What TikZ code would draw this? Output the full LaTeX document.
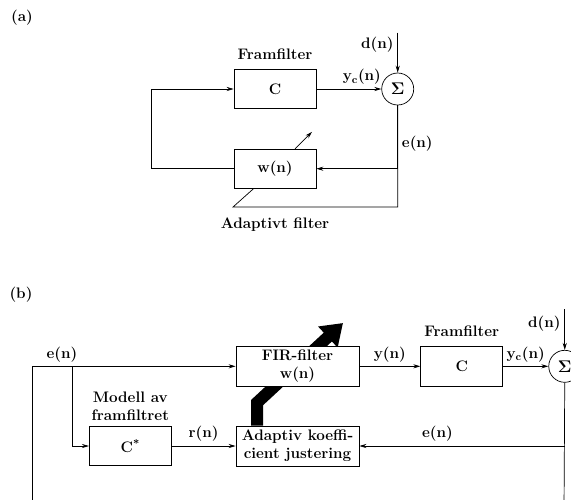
\documentclass[tikz,border=0pt]{standalone}
\usepackage{tikz}
\usetikzlibrary{arrows.meta,positioning,calc}

\begin{document}
\begin{tikzpicture}[
  every node/.style={font=\fontsize{13}{15.5}\selectfont\bfseries},
  blk/.style={rectangle, draw, minimum width=2.46cm, minimum height=1.17cm,
              align=center, fill=white, inner sep=1pt, line width=0.6pt},
  wblk/.style={blk, minimum width=3.69cm, minimum height=1.2cm},
  sumnode/.style={circle, draw, minimum size=0.96cm, inner sep=0pt, line width=0.6pt,
                  font=\Large},
  wire/.style={line width=0.6pt},
  arr/.style={-{Stealth[length=6pt,width=3.5pt]}, line width=0.6pt},
  bigarr/.style={-{Triangle[length=0.62cm,width=0.82cm]}, line width=0.36cm},
]
\useasboundingbox (0,0) rectangle (17.13,-14.97);

%% (a) adaptive filter
\node (tagA) at (0.66,-0.54) {(a)};
\node[blk] (Ca) at (8.25,-2.67) {C};
\node[above=0.15cm of Ca] (fa) {Framfilter};
\node[blk, below=1.2cm of Ca] (Wa) {w(n)};
\node[sumnode, right=1.95cm of Ca] (Sa) {$\mathbf{\Sigma}$};
\node[below=0.75cm of Wa] (ada) {Adaptivt filter};

\coordinate (da) at ($(Sa.north)+(0,1.2)$);
\coordinate (ba) at (6.99,-6.21);

\draw[arr] (da) -- node[left, pos=0.3] {d(n)} (Sa.north);
\draw[arr] (Ca) -- node[above, pos=0.7] {y\textsubscript{c}(n)} (Sa);
\draw[arr] (Sa.south) |- node[right, pos=0.3] {e(n)} (Wa.east);
\draw[arr] (Wa.west) -- ++(-2.46,0) |- (Ca.west);
\draw[wire] (Sa.south) |- (ba) -- ($(Wa.south west)+(0.6,0)$);
\draw[arr] ($(Wa.north)+(0.6,0)$) -- ++(0.51,0.51);

%% (b) filtered-x structure
\node (tagB) at (0.63,-8.85) {(b)};
\node[wblk] (Ab) at (8.925,-13.38) {Adaptiv koeffi-\\cient justering};
\node[blk, left=1.92cm of Ab] (Cs) {C\textsuperscript{*}};
\node[above=0.05cm of Cs, align=center] (mod) {Modell av\\framfiltret};

\draw[bigarr] ($(Ab.north)+(-1.215,0)$) -- ++(0,0.69) -- (10.29,-9.69);

\node[wblk, above=1.17cm of Ab] (Fb) {FIR-filter\\w(n)};
\node[blk, right=1.83cm of Fb, minimum height=1.2cm] (Cb) {C};
\node[above=0.15cm of Cb] (fb) {Framfilter};
\node[sumnode, right=1.36cm of Cb] (Sb) {$\mathbf{\Sigma}$};

\coordinate (lb) at (0.96,-15.3);
\coordinate (eb) at (2.16,-11.01);
\coordinate (rb) at (16.92,-15.3);
\coordinate (db) at ($(Sb.north)+(0,1.22)$);

\draw[arr] (lb) |- (Fb.west);
\draw[arr] (eb) |- (Cs.west);
\node[above=0.02cm of eb, xshift=-0.3cm] (eL) {e(n)};
\draw[arr] (Cs) -- node[above] {r(n)} (Ab);
\draw[arr] (Fb) -- node[above] {y(n)} (Cb);
\draw[arr] (Cb) -- node[above] {y\textsubscript{c}(n)} (Sb);
\draw[arr] (db) -- node[left, pos=0.35] {d(n)} (Sb.north);
\draw[wire] (Sb.south) -- (rb);
\draw[arr] (Sb.south |- Ab.east) -- node[above, pos=0.62] {e(n)} (Ab.east);

\end{tikzpicture}
\end{document}
